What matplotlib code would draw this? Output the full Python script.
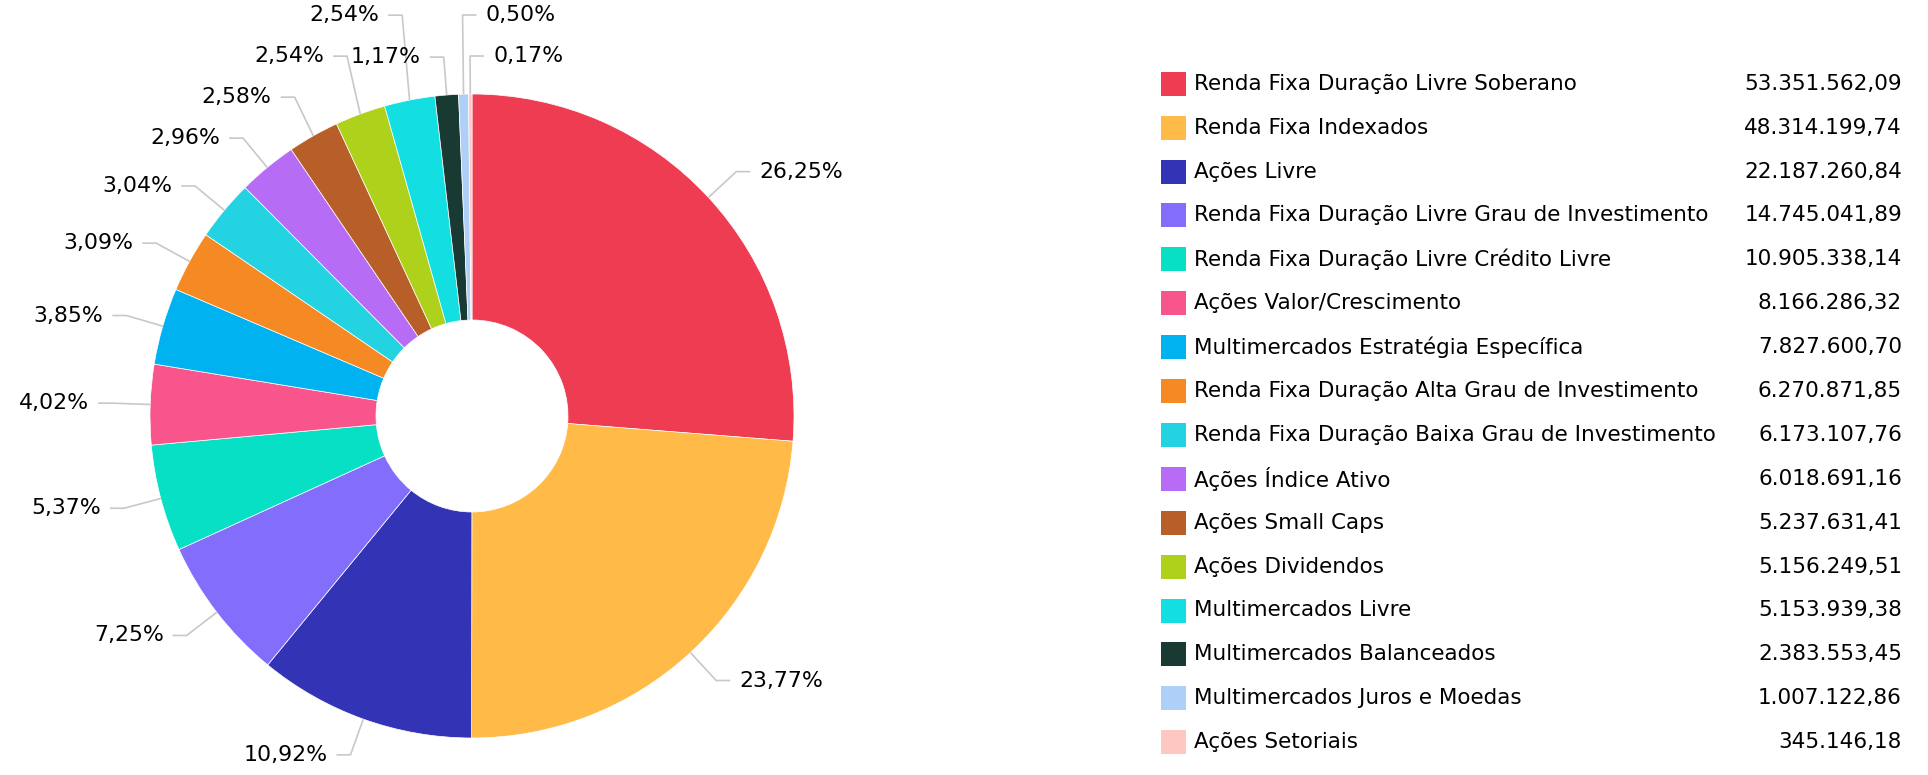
import numpy as np
import matplotlib
matplotlib.use('Agg')
import matplotlib.pyplot as plt
from matplotlib.patches import Rectangle
from matplotlib.textpath import TextPath
from matplotlib.font_manager import FontProperties

# categories and values (R$)
categories = [
    'Renda Fixa Duração Livre Soberano',
    'Renda Fixa Indexados',
    'Ações Livre',
    'Renda Fixa Duração Livre Grau de Investimento',
    'Renda Fixa Duração Livre Crédito Livre',
    'Ações Valor/Crescimento',
    'Multimercados Estratégia Específica',
    'Renda Fixa Duração Alta Grau de Investimento',
    'Renda Fixa Duração Baixa Grau de Investimento',
    'Ações Índice Ativo',
    'Ações Small Caps',
    'Ações Dividendos',
    'Multimercados Livre',
    'Multimercados Balanceados',
    'Multimercados Juros e Moedas',
    'Ações Setoriais',
]
values = [53351562.09, 48314199.74, 22187260.84, 14745041.89, 10905338.14,
          8166286.32, 7827600.70, 6270871.85, 6173107.76, 6018691.16,
          5237631.41, 5156249.51, 5153939.38, 2383553.45, 1007122.86,
          345146.18]
colors = ['#EE3D52', '#FFBA47', '#3333B5', '#826EFB', '#08E0C6', '#F7558C',
          '#01B2F1', '#F58A24', '#23D3E2', '#B66CF4', '#B85E29', '#AED11C',
          '#13DFE3', '#193A33', '#AECFF8', '#FFC7C2']


def br(v, dec=2):
    s = f'{v:,.{dec}f}'
    return s.replace(',', '#').replace('.', ',').replace('#', '.')


W, H = 1928, 775
fig = plt.figure(figsize=(W / 100, H / 100), dpi=100)
ax = fig.add_axes([0, 0, 1, 1])

font = 'DejaVu Sans'
lab_pt = 15.8
leg_pt = 15.5

# pie geometry (pixels)
cx, cy = 472, H - 416
R = 322
hole = 96

ax.pie(values, colors=colors, startangle=90, counterclock=False,
       center=(cx, cy), radius=R, frame=True,
       wedgeprops=dict(width=R - hole, edgecolor='white', linewidth=0.5))
ax.set_xlim(0, W)
ax.set_ylim(0, H)
ax.set_aspect('equal')
ax.axis('off')

# data labels with connectors
total = sum(values)
pcts = [v / total * 100 for v in values]
texts = [br(p) + '%' for p in pcts]
cum = np.cumsum([0] + pcts)
mids = [(cum[i] + cum[i + 1]) / 2 * 3.6 for i in range(len(values))]

r_elbow = 360
seg = 14
gap = 9
box_h = 41
fp = FontProperties(family=font)
lab_px = lab_pt * 100 / 72


def text_w(s):
    return TextPath((0, 0), s, size=lab_px, prop=fp).get_extents().width


items = []
for i, th in enumerate(mids):
    t = np.radians(th)
    right = np.sin(t) > -0.05
    items.append(dict(i=i, th=th, right=right,
                      ex=cx + r_elbow * np.sin(t), ey=cy + r_elbow * np.cos(t),
                      px=cx + R * np.sin(t), py=cy + R * np.cos(t),
                      w=text_w(texts[i])))


def box_x(it):
    if it['right']:
        return it['ex'] + seg + gap, it['ex'] + seg + gap + it['w']
    return it['ex'] - seg - gap - it['w'], it['ex'] - seg - gap


def place(group):
    # push overlapping labels away from the centre, bottom to top
    done = []
    for it in group:
        up = it['ey'] >= cy
        while True:
            a0, a1 = box_x(it)
            clash = [p for p in done if abs(p['ey'] - it['ey']) < box_h - 1
                     and box_x(p)[0] < a1 and box_x(p)[1] > a0]
            if not clash:
                break
            if up:
                it['ey'] = max(p['ey'] for p in clash) + box_h
            else:
                it['ey'] = min(p['ey'] for p in clash) - box_h
        done.append(it)


left = sorted([it for it in items if not it['right']], key=lambda d: d['th'])
right = sorted([it for it in items if it['right']],
               key=lambda d: -(d['th'] if d['th'] < 180 else d['th'] - 360))
place(left)
place(right)

for it in items:
    sgn = 1 if it['right'] else -1
    ax.plot([it['px'], it['ex'], it['ex'] + sgn * seg],
            [it['py'], it['ey'], it['ey']],
            color='#c8c8c8', lw=1.2, solid_capstyle='butt', zorder=1)
    ax.text(it['ex'] + sgn * (seg + gap), it['ey'], texts[it['i']],
            ha='left' if it['right'] else 'right', va='center',
            fontsize=lab_pt, family=font, color='#000000')

# legend
leg_top = 83.7
leg_step = 43.9
for k, (name, v, c) in enumerate(zip(categories, values, colors)):
    y = H - (leg_top + k * leg_step)
    ax.add_patch(Rectangle((1161, y - 12), 25, 24, facecolor=c, edgecolor='none'))
    ax.text(1194, y, name, ha='left', va='center', fontsize=leg_pt,
            family=font, color='#000000')
    ax.text(1902, y, br(v), ha='right', va='center', fontsize=leg_pt,
            family=font, color='#000000')

fig.savefig('out.png', dpi=100, facecolor='white')
